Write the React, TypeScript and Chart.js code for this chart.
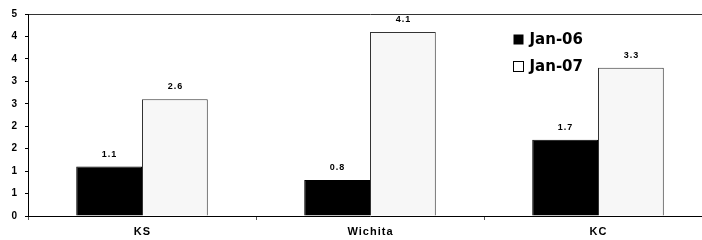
import React, { useEffect, useRef } from "react";
import { Chart, registerables } from "chart.js";

Chart.register(...registerables);

const categories = ["KS", "Wichita", "KC"];
const seriesNames = ["Jan-06", "Jan-07"];
const jan06 = [1.1, 0.8, 1.7];
const jan07 = [2.6, 4.1, 3.3];
const yMin = 0;
const yMax = 4.5;
const yStep = 0.5;

const dataLabelPlugin = {
  id: "dataLabels",
  afterDatasetsDraw(chart: any) {
    const ctx = chart.ctx;
    ctx.save();
    ctx.font = "bold 9px 'Liberation Sans', Arial, sans-serif";
    ctx.fillStyle = "#000";
    ctx.textAlign = "center";
    ctx.textBaseline = "middle";
    (ctx as any).letterSpacing = "1px";
    chart.data.datasets.forEach((ds: any, di: number) => {
      const meta = chart.getDatasetMeta(di);
      meta.data.forEach((el: any, i: number) => {
        ctx.fillText(ds.data[i].toFixed(1), el.x + 0.5, el.y - 12.5);
      });
    });
    ctx.restore();
  },
};

const xLabelPlugin = {
  id: "xLabels",
  afterDraw(chart: any) {
    const ctx = chart.ctx;
    const xs = chart.scales.x;
    ctx.save();
    ctx.font = "bold 11px 'Liberation Sans', Arial, sans-serif";
    ctx.fillStyle = "#000";
    ctx.textAlign = "center";
    ctx.textBaseline = "middle";
    (ctx as any).letterSpacing = "1px";
    chart.data.labels.forEach((lab: string, i: number) => {
      ctx.fillText(lab, xs.getPixelForValue(i) + 0.5, chart.chartArea.bottom + 15.5);
    });
    ctx.restore();
  },
};

const legendPlugin = {
  id: "innerLegend",
  afterDraw(chart: any) {
    const ctx = chart.ctx;
    const a = chart.chartArea;
    const x0 = a.left + 485.5;
    const y0 = a.top + 20.5;
    const gap = 27;
    ctx.save();
    ctx.font = "bold 15px 'DejaVu Sans', sans-serif";
    ctx.textBaseline = "middle";
    ctx.textAlign = "left";
    chart.data.datasets.forEach((ds: any, i: number) => {
      const y = y0 + i * gap;
      ctx.fillStyle = i === 0 ? "#000" : "#fff";
      ctx.fillRect(x0, y, 10, 10);
      if (i === 1) {
        ctx.strokeStyle = "#000";
        ctx.lineWidth = 1;
        ctx.strokeRect(x0, y, 10, 10);
      }
      ctx.fillStyle = "#000";
      ctx.fillText(ds.label, x0 + 16, y + 5.5);
    });
    ctx.restore();
  },
};

export default function App() {
  const ref = useRef<HTMLCanvasElement | null>(null);
  useEffect(() => {
    if (!ref.current) return;
    const chart = new Chart(ref.current, {
      type: "bar",
      data: {
        labels: categories,
        datasets: [
          {
            label: seriesNames[0],
            data: jan06,
            backgroundColor: "#000",
            borderColor: "#000",
            borderWidth: 1,
            categoryPercentage: 0.577,
            barPercentage: 1,
          },
          {
            label: seriesNames[1],
            data: jan07,
            backgroundColor: "#f7f7f7",
            borderColor: "#333",
            borderWidth: 1,
            categoryPercentage: 0.577,
            barPercentage: 1,
          },
        ],
      },
      options: {
        responsive: false,
        animation: false,
        devicePixelRatio: 1,
        layout: { padding: { top: 11, left: 0, right: 0, bottom: 0 } },
        plugins: {
          legend: { display: false },
          tooltip: { enabled: false },
        },
        scales: {
          x: {
            offset: true,
            grid: {
              drawOnChartArea: false,
              tickLength: 4,
              tickColor: "#555",
            },
            border: { display: true, color: "#000", width: 1 },
            ticks: {
              color: "rgba(0,0,0,0)",
              font: { size: 11, weight: "bold", family: "'Liberation Sans', Arial" },
            },
            afterFit: (s: any) => {
              s.height = 24;
            },
          },
          y: {
            min: yMin,
            max: yMax,
            ticks: {
              stepSize: yStep,
              color: "#000",
              padding: 8,
              font: { size: 10, weight: "bold", family: "'Liberation Sans', Arial" },
              callback: (v: any) => String(Math.round(Number(v))),
            },
            grid: {
              color: (c: any) =>
                c.tick && Math.abs(c.tick.value - yMax) < 1e-9 ? "#333" : "rgba(0,0,0,0)",
              tickColor: "#000",
              tickLength: 3,
            },
            border: { display: true, color: "#000", width: 1 },
            afterFit: (s: any) => {
              s.width = 28;
            },
          },
        },
      },
      plugins: [dataLabelPlugin, xLabelPlugin, legendPlugin],
    });
    return () => chart.destroy();
  }, []);
  return (
    <div
      style={{
        position: "fixed",
        left: 0,
        top: 0,
        width: 702,
        height: 240,
        overflow: "hidden",
        background: "#fff",
      }}
    >
      <canvas ref={ref} width={712} height={240} style={{ display: "block" }} />
    </div>
  );
}
